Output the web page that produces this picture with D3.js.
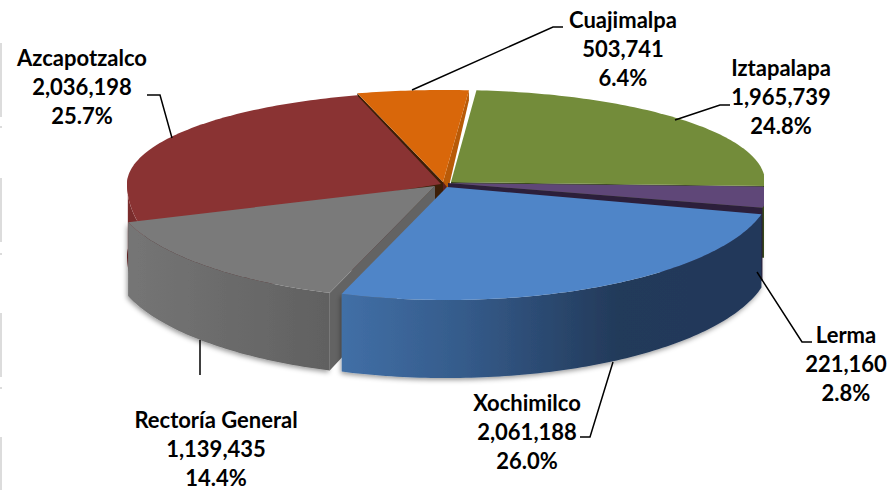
<!DOCTYPE html>
<html>
<head>
<meta charset="utf-8">
<script src="https://cdn.jsdelivr.net/npm/d3@7"></script>
<style>
  html, body { margin: 0; padding: 0; background: #fff; }
  svg { display: block; }
  text { font-family: Lato, "Open Sans", sans-serif; font-weight: 700; font-size: 22px; fill: #000; }
</style>
</head>
<body>
<div class="graph"></div>
<script>
const w = 892;
const h = 490;

const names = ["Azcapotzalco", "Cuajimalpa", "Iztapalapa", "Lerma", "Xochimilco", "Rectoría General"];
const values = [2036198, 503741, 1965739, 221160, 2061188, 1139435];
const topColors = ["#8a3333", "#d9670a", "#738c3a", "#5f4778", "#4f85c8", "#7a7a7a"];
const edgeColors = ["#4a1818", "#3d1f08", "#3a4a1c", "#2c1f3b", "#233a5c", "#636363"];

// where each exploded slice sits
const sliceX = [441, 443, 451, 448, 447, 435];
const sliceY = [184, 182, 182, 183, 187, 186];
const sliceRx = [314, 320, 314, 324, 324, 324];
const sliceRyLow = [146, 113, 113, 103, 113, 113];
const ryTop = 92;
const rightLimit = 764;

// perspective: pie angle -> angle seen on the ellipse (degrees)
const pieAngles = [-110.7, -18.2, 4.7, 93.9, 104, 197.6, 249.3];
const seenAngles = [-108.7, -15.5, 4.7, 92, 104, 199, 251.3];

// label centre x, first baseline y, leader polyline
const labelX = [82, 623, 781, 846, 527, 216];
const labelY = [66, 28, 76, 343, 411, 428];
const leaders = [
  [[147, 95], [160, 95], [172, 138]],
  [[412, 90], [553, 27], [563, 27]],
  [[675, 120], [720, 105], [730, 105]],
  [[757, 272], [802, 342], [812, 342]],
  [[613, 362], [590, 437], [580, 437]],
  [[200, 340], [200, 375]]
];

const stripY = [[43, 117], [126, 128], [178, 242], [253, 255], [313, 377], [387, 389], [437, 490]];

const total = d3.sum(values);
const pct = d3.format(".1%");
const num = d3.format(",");
const toRad = Math.PI / 180;

const seen = d3.scaleLinear().domain(pieAngles).range(seenAngles);

const arcs = d3.pie().sort(null)
  .startAngle(-110.7 * toRad)
  .endAngle(249.3 * toRad)(values);

function rim(i, deg) {
  const a = seen(deg) * toRad;
  const c = Math.cos(a);
  return [Math.min(sliceX[i] + sliceRx[i] * Math.sin(a), rightLimit),
          sliceY[i] - (c > 0 ? ryTop : sliceRyLow[i]) * c];
}
function depth(y) { return 72 + (y - 190) * 0.055; }
function down(p) { return [p[0], p[1] + depth(p[1])]; }
function deg(i) { return [arcs[i].startAngle / toRad, arcs[i].endAngle / toRad]; }

function rimPoints(i, from, to) {
  const n = Math.max(2, Math.ceil(Math.abs(to - from)));
  return d3.range(n + 1).map(k => rim(i, from + (to - from) * k / n));
}

const line = d3.line();
const closed = pts => line(pts) + "Z";

const canvas = d3.select(".graph").append("svg").attr("width", w).attr("height", h);
const defs = canvas.append("defs");

const shadow = defs.append("filter").attr("id", "shadow")
  .attr("x", "-5%").attr("y", "-5%").attr("width", "110%").attr("height", "115%");
shadow.append("feDropShadow").attr("dx", -1).attr("dy", 2).attr("stdDeviation", 2.5)
  .attr("flood-color", "#000").attr("flood-opacity", 0.4);

function gradient(id, x1, x2, stops) {
  const g = defs.append("linearGradient").attr("id", id)
    .attr("gradientUnits", "userSpaceOnUse")
    .attr("x1", x1).attr("x2", x2).attr("y1", 0).attr("y2", 0);
  stops.forEach(s => g.append("stop").attr("offset", s[0]).attr("stop-color", s[1]));
}
gradient("blueWall", 342, 765, [[0, "#416fa6"], [0.3, "#345a89"], [0.65, "#233a5a"], [1, "#22385a"]]);
gradient("greyWall", 128, 326, [[0, "#757575"], [1, "#616161"]]);

// left strips
canvas.selectAll("rect.strip").data(stripY).enter().append("rect")
  .attr("class", "strip").attr("x", 0).attr("width", 2)
  .attr("y", d => d[0]).attr("height", d => d[1] - d[0]).attr("fill", "#dcdcdc");

const pieG = canvas.append("g");

function wall(i, from, to, fill, filtered) {
  const upper = rimPoints(i, from, to);
  const p = pieG.append("path").attr("d", closed(upper.concat(upper.map(down).reverse()))).attr("fill", fill);
  if (filtered) p.attr("filter", "url(#shadow)");
}
function face(i, d, fill) {
  const r = rim(i, d);
  const apex = [sliceX[i], sliceY[i]];
  pieG.append("path").attr("d", closed([apex, r, down(r), down(apex)])).attr("fill", fill);
}
function topFace(i) {
  const [a, b] = deg(i);
  pieG.append("path")
    .attr("d", closed([[sliceX[i], sliceY[i]]].concat(rimPoints(i, a, b))))
    .attr("fill", topColors[i]);
}

// back to front
const redA = deg(0)[0];
wall(0, redA, -88, "#7a2c2c", false);
face(0, redA, edgeColors[0]);

// orange cut face, seen as a thin strip
const orangeEnd = rim(1, deg(1)[1]);
pieG.append("path").attr("d", closed([
  orangeEnd, [sliceX[1], sliceY[1]], [sliceX[1], sliceY[1] + 30], [orangeEnd[0], orangeEnd[1] + 10]
])).attr("fill", "#b85a08");

// dark core that shows through between the exploded slices
pieG.append("path").attr("d", closed([
  [sliceX[5], sliceY[5]], [sliceX[1], sliceY[1]], [sliceX[4], sliceY[4]], [sliceX[5], sliceY[5] + 30]
])).attr("fill", "#5a2020");

wall(2, 88, deg(2)[1], "#3b4a1e", true);
face(2, deg(2)[1], edgeColors[2]);
topFace(2);
face(3, deg(3)[1], edgeColors[3]);
topFace(3);
face(1, deg(1)[0], edgeColors[1]);
topFace(1);
topFace(0);

wall(5, deg(5)[0], deg(5)[1], "url(#greyWall)", true);
face(5, deg(5)[0], "#636363");
topFace(5);

wall(4, deg(4)[0], deg(4)[1], "url(#blueWall)", true);
topFace(4);

// leaders
canvas.selectAll("path.leader").data(leaders).enter().append("path")
  .attr("class", "leader").attr("d", d => line(d))
  .attr("fill", "none").attr("stroke", "#000").attr("stroke-width", 1.5);

// labels
names.forEach((name, i) => {
  const t = canvas.append("text").attr("text-anchor", "middle")
    .attr("x", labelX[i]).attr("y", labelY[i]);
  [name, num(values[i]), pct(values[i] / total)].forEach((s, k) => {
    t.append("tspan").attr("x", labelX[i]).attr("dy", k ? 29 : 0).text(s);
  });
});
</script>
</body>
</html>
